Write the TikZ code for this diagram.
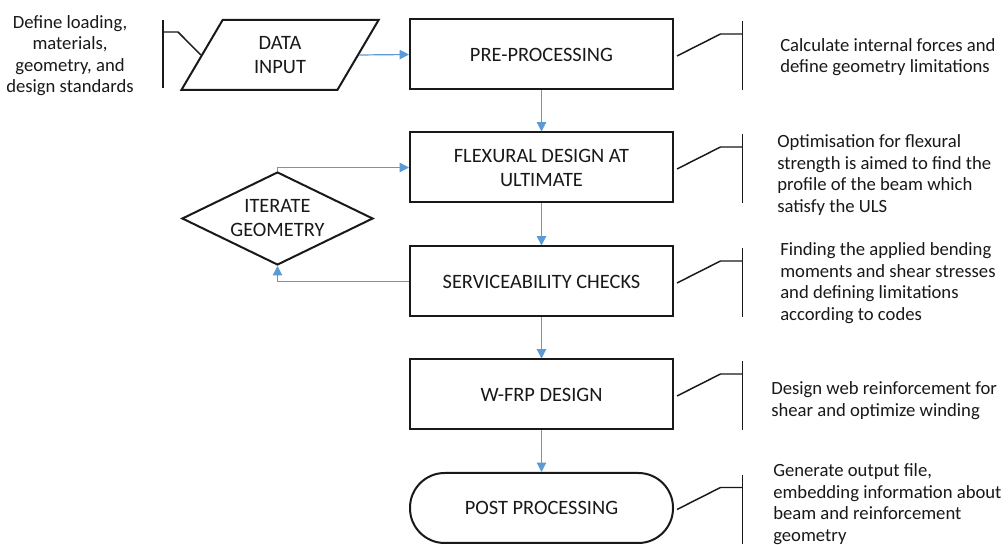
\documentclass[tikz,border=0pt]{standalone}
\usepackage{fontspec}
\setmainfont{Carlito}
\usetikzlibrary{shapes.geometric,arrows.meta,calc}
\definecolor{flowblue}{RGB}{91,155,213}
\definecolor{ink}{RGB}{25,25,25}
\newcommand\annotbracket[1]{%
  \draw[callout] ($(#1.east)+(3,1.5)$) -- ($(#1.center)+(179,-20.5)$) -- ++(22,0);
  \draw[callout] ($(#1.center)+(201,-33)$) -- ++(0,69);}
\begin{document}
\begin{tikzpicture}[x=0.75pt,y=-0.75pt,
  every node/.style={text=ink},
  boxfont/.style={font=\fontsize{15.3}{18}\selectfont},
  notefont/.style={font=\fontsize{14}{16.1}\selectfont},
  procbox/.style={boxfont, draw=ink, line width=1.5pt, minimum width=197.25pt, minimum height=52.5pt, inner sep=0pt, align=center},
  flowarrow/.style={draw=flowblue, line width=0.9pt, -{Triangle[length=7pt,width=7pt]}},
  callout/.style={draw=ink, line width=1.1pt},
  note/.style={notefont, anchor=west, align=left, inner sep=0pt}]
\fill[white] (0,0) rectangle (1008,545);
\useasboundingbox (0,0) rectangle (1008,545);

% main flow
\node[procbox] (pre) at (541.5,54.5) {PRE-PROCESSING};
\node[procbox] (flex) at (541.5,167.5) {FLEXURAL DESIGN AT\\ULTIMATE};
\node[procbox] (serv) at (541.5,281.5) {SERVICEABILITY CHECKS};
\node[procbox] (wfrp) at (541.5,394.5) {W-FRP DESIGN};
\node[procbox, rounded corners=26pt] (post) at (541.5,508) {POST PROCESSING};

\node[trapezium, trapezium stretches=true, trapezium left angle=63.4, trapezium right angle=116.6,
      draw=ink, line width=1.5pt, minimum width=148.5pt, minimum height=52.5pt, inner sep=0pt, align=center, boxfont]
      (data) at (280,55) {DATA\\INPUT};

\node[diamond, shape aspect=2.05, draw=ink, line width=1.5pt, minimum width=143.25pt, minimum height=69.75pt, inner sep=0pt, align=center, boxfont]
      (iter) at (277.5,218.5) {ITERATE\\GEOMETRY};

% side texts
\node[notefont, align=center, inner sep=0pt] (inputnote) at (70,55.5) {Define loading,\\materials,\\geometry, and\\design standards};
\node[note] (prenote) at (780,57) {Calculate internal forces and\\define geometry limitations};
\node[note] (flexnote) at (777,175) {Optimisation for flexural\\strength is aimed to find the\\profile of the beam which\\satisfy the ULS};
\node[note] (servnote) at (780,283) {Finding the applied bending\\moments and shear stresses\\and defining limitations\\according to codes};
\node[note] (wfrpnote) at (771,400.5) {Design web reinforcement for\\shear and optimize winding};
\node[note] (postnote) at (773,504) {Generate output file,\\embedding information about\\beam and reinforcement\\geometry};

% connectors
\draw[flowarrow] (data.east) -- (pre.west);
\draw[flowarrow] (pre.south) -- (flex.north);
\draw[flowarrow] (flex.south) -- (serv.north);
\draw[flowarrow] (serv.south) -- (wfrp.north);
\draw[flowarrow] (wfrp.south) -- (post.north);
\draw[flowarrow] (iter.north) |- (flex.west);
\draw[flowarrow] (serv.west) -| (iter.south);

% annotation brackets
\draw[callout] (163,20) -- (163,88);
\draw[callout] (163,32) -- (178,32) -- (data.west);
\annotbracket{pre}
\annotbracket{flex}
\annotbracket{serv}
\annotbracket{wfrp}
\annotbracket{post}
\end{tikzpicture}
\end{document}
